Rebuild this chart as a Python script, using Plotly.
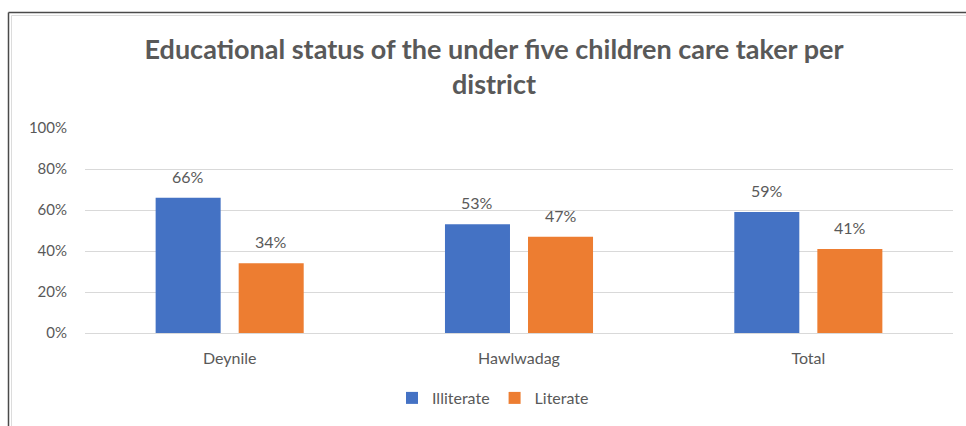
import plotly.graph_objects as go

# Chart data
districts = ["Deynile", "Hawlwadag", "Total"]
illiterate = [66, 53, 59]
literate = [34, 47, 41]
y_ticks = [0, 20, 40, 60, 80, 100]
y_tick_labels = ["0%", "20%", "40%", "60%", "80%", "100%"]

W, H = 966, 426
M_L, M_R, M_T, M_B = 85, 13, 128, 93
PLOT_W = W - M_L - M_R
PLOT_H = H - M_T - M_B

BLUE = "#4472C4"
ORANGE = "#ED7D31"
TEXT = "#595959"
GRID = "#D9D9D9"
FONT = "Lato"


def px_x(p):
    return (p - M_L) / PLOT_W


def px_y(p):
    return (H - M_B - p) / PLOT_H


fig = go.Figure()
fig.add_trace(go.Bar(name="Illiterate", x=districts, y=illiterate,
                     marker=dict(color=BLUE, line=dict(width=0))))
fig.add_trace(go.Bar(name="Literate", x=districts, y=literate,
                     marker=dict(color=ORANGE, line=dict(width=0))))

# value labels above each bar
BAR_GAP = 0.426
GROUP_GAP = 0.217
slot_px = PLOT_W / len(districts) * (1 - BAR_GAP) / 2
annotations = []
for series, sign in ((illiterate, -1), (literate, 1)):
    for d, v in zip(districts, series):
        annotations.append(dict(
            x=d, y=v, xref="x", yref="y", text=f"{v}%", showarrow=False,
            xanchor="center", yanchor="bottom", xshift=sign * slot_px / 2,
            yshift=10, font=dict(family=FONT, size=16, color=TEXT)))


# chart frame: dark outer border with a faint inner edge
def frame_lines(offset, color, width):
    x0, y0 = px_x(offset), px_y(offset + 4)
    far_x, far_y = px_x(W + 20), px_y(H + 20)
    return [
        dict(type="line", xref="paper", yref="paper", x0=x0, x1=far_x, y0=y0, y1=y0,
             line=dict(color=color, width=width), layer="above"),
        dict(type="line", xref="paper", yref="paper", x0=x0, x1=x0, y0=y0, y1=far_y,
             line=dict(color=color, width=width), layer="above"),
    ]


shapes = frame_lines(8.5, "#4A4A4A", 1.5) + frame_lines(11.5, "#DCDCDC", 1)

fig.update_layout(
    width=W, height=H,
    margin=dict(l=M_L, r=M_R, t=M_T, b=M_B, autoexpand=False),
    paper_bgcolor="white", plot_bgcolor="white",
    barmode="group", bargap=BAR_GAP, bargroupgap=GROUP_GAP,
    title=dict(text="Educational status of the under five children care taker per<br>district",
               x=494 / W, xanchor="center", y=1 - 59 / H, yanchor="top",
               font=dict(family=FONT, size=27, color=TEXT, weight="bold")),
    font=dict(family=FONT, color=TEXT),
    xaxis=dict(showline=False, showgrid=False, ticks="", ticklabelstandoff=14,
               tickfont=dict(family=FONT, size=16, color=TEXT)),
    yaxis=dict(range=[0, 100], tickvals=y_ticks, ticktext=y_tick_labels,
               showgrid=True, gridcolor=GRID, gridwidth=1, zeroline=True,
               zerolinecolor=GRID, zerolinewidth=1, showline=False, ticks="",
               ticklabelstandoff=17, tickfont=dict(family=FONT, size=15, color=TEXT)),
    legend=dict(orientation="h", x=px_x(493), xanchor="center",
                y=px_y(398), yanchor="middle", font=dict(family=FONT, size=16, color=TEXT),
                itemwidth=30, tracegroupgap=0),
    annotations=annotations,
    shapes=shapes,
    showlegend=True,
)

fig.write_html("out.html")
